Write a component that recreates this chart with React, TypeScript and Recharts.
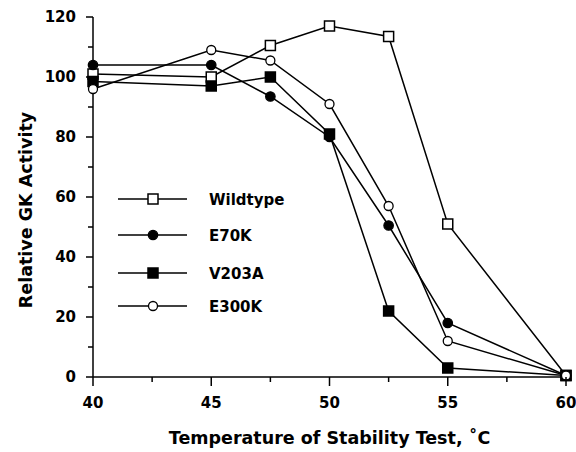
import { LineChart, Line, XAxis, YAxis, Legend } from 'recharts'

const temps = [40, 45, 47.5, 50, 52.5, 55, 60]
const wildtype = [101, 100, 110.5, 117, 113.5, 51, 0.5]
const e70k = [104, 104, 93.5, 80, 50.5, 18, 0.5]
const v203a = [98.5, 97, 100, 81, 22, 3, 0.5]
const e300k = [96, 109, 105.5, 91, 57, 12, 0.5]

const xTicks = [40, 42.5, 45, 47.5, 50, 52.5, 55, 57.5, 60]
const yTicks = [0, 10, 20, 30, 40, 50, 60, 70, 80, 90, 100, 110, 120]

const series = [
  { key: 'wildtype', name: 'Wildtype', shape: 'square', filled: false },
  { key: 'e70k', name: 'E70K', shape: 'circle', filled: true },
  { key: 'v203a', name: 'V203A', shape: 'square', filled: true },
  { key: 'e300k', name: 'E300K', shape: 'circle', filled: false },
]

const rows = temps.map((t, i) => ({
  temp: t,
  wildtype: wildtype[i],
  e70k: e70k[i],
  v203a: v203a[i],
  e300k: e300k[i],
}))

const FONT = '"DejaVu Sans", sans-serif'

function marker(shape: string, filled: boolean, cx: number, cy: number, k?: string) {
  const fill = filled ? '#000' : '#fff'
  if (shape === 'square') {
    return <rect key={k} x={cx - 5} y={cy - 5} width={10} height={10} fill={fill} stroke="#000" strokeWidth={1.5} />
  }
  return <circle key={k} cx={cx} cy={cy} r={filled ? 4.7 : 4.5} fill={fill} stroke="#000" strokeWidth={1.3} />
}

const makeDot = (shape: string, filled: boolean) => (props: any) =>
  marker(shape, filled, props.cx, props.cy, `${props.dataKey}-${props.index}`)

function XTick({ x, y, payload }: any) {
  const major = payload.value % 5 === 0
  return (
    <g>
      <line x1={x} x2={x} y1={y} y2={y + (major ? 9 : 5)} stroke="#000" strokeWidth={1.5} />
      {major && (
        <text x={x} y={y + 31} textAnchor="middle" fontFamily={FONT} fontWeight="bold" fontSize={15} fill="#000">
          {payload.value}
        </text>
      )}
    </g>
  )
}

function YTick({ x, y, payload }: any) {
  const major = payload.value % 20 === 0
  return (
    <g>
      <line x1={x - (major ? 7 : 5)} x2={x} y1={y} y2={y} stroke="#000" strokeWidth={1.5} />
      {major && (
        <text x={x - 17} y={y + 5} textAnchor="end" fontFamily={FONT} fontWeight="bold" fontSize={15} fill="#000">
          {payload.value}
        </text>
      )}
    </g>
  )
}

const legendRows = [14, 50, 88, 121]

function LegendBox() {
  return (
    <svg width={180} height={135}>
      {series.map((s, i) => (
        <g key={s.key}>
          <line x1={8} x2={77} y1={legendRows[i]} y2={legendRows[i]} stroke="#000" strokeWidth={1.5} />
          {marker(s.shape, s.filled, 43, legendRows[i])}
          <text x={99} y={legendRows[i] + 5.5} fontFamily={FONT} fontWeight="bold" fontSize={15} fill="#000">
            {s.name}
          </text>
        </g>
      ))}
    </svg>
  )
}

export default function App() {
  return (
    <div style={{ position: 'absolute', left: 0, top: 0, background: '#fff' }}>
      <LineChart width={576} height={452} data={rows} margin={{ top: 17, right: 10, left: 0, bottom: 0 }}>
        <XAxis
          dataKey="temp"
          type="number"
          domain={[40, 60]}
          ticks={xTicks}
          interval={0}
          height={75}
          tickSize={0}
          tickMargin={0}
          tickLine={false}
          tick={<XTick />}
          stroke="#000"
          strokeWidth={1.5}
          label={(p: any) => (
            <text
              x={p.viewBox.x + p.viewBox.width / 2}
              y={p.viewBox.y + 67}
              textAnchor="middle"
              fontFamily={FONT}
              fontWeight="bold"
              fontSize={17.5}
              fill="#000"
            >
              Temperature of Stability Test, ˚C
            </text>
          )}
        />
        <YAxis
          type="number"
          domain={[0, 120]}
          ticks={yTicks}
          interval={0}
          width={93}
          tickSize={0}
          tickMargin={0}
          tickLine={false}
          tick={<YTick />}
          stroke="#000"
          strokeWidth={1.5}
          label={(p: any) => {
            const cx = 32
            const cy = p.viewBox.y + p.viewBox.height / 2 + 13
            return (
              <text
                x={cx}
                y={cy}
                transform={`rotate(-90 ${cx} ${cy})`}
                textAnchor="middle"
                fontFamily={FONT}
                fontWeight="bold"
                fontSize={17.5}
                fill="#000"
              >
                Relative GK Activity
              </text>
            )
          }}
        />
        <Legend
          layout="horizontal"
          verticalAlign="middle"
          align="center"
          content={() => <LegendBox />}
          wrapperStyle={{ position: 'absolute', left: 110, top: 185, width: 180, height: 135 }}
        />
        {series.map((s) => (
          <Line
            key={s.key}
            type="linear"
            dataKey={s.key}
            name={s.name}
            stroke="#000"
            strokeWidth={1.5}
            dot={makeDot(s.shape, s.filled)}
            activeDot={false}
            isAnimationActive={false}
          />
        ))}
      </LineChart>
    </div>
  )
}
